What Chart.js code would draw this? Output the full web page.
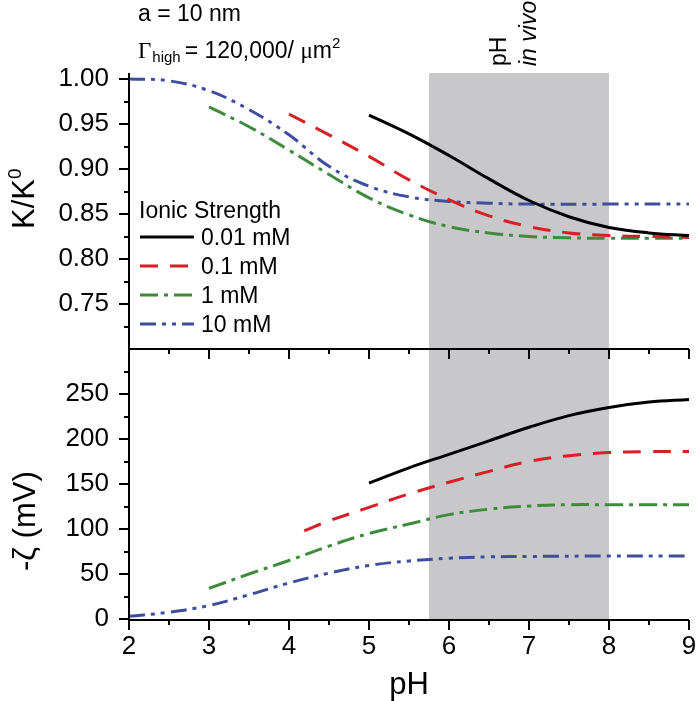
<!DOCTYPE html>
<html>
<head>
<meta charset="utf-8">
<title>K/K0 and zeta potential vs pH</title>
<script src="https://cdn.jsdelivr.net/npm/chart.js@4.4.1/dist/chart.umd.min.js"></script>
<style>
  html, body { margin: 0; padding: 0; background: #fff; }
  canvas { display: block; }
</style>
</head>
<body>
<canvas id="phChart" width="698" height="701"></canvas>
<script>
// Ionic strength series
const ionicLabels = ['0.01 mM', '0.1 mM', '1 mM', '10 mM'];

// Top panel: K/K0 vs pH
const kPh001 = [5, 5.5, 6, 6.5, 7, 7.5, 8, 8.5, 9];
const k001   = [0.960, 0.939, 0.915, 0.889, 0.865, 0.847, 0.835, 0.829, 0.826];
const kPh01  = [4, 4.5, 5, 5.5, 6, 6.5, 7, 7.5, 8, 8.5, 9];
const k01    = [0.961, 0.938, 0.914, 0.888, 0.866, 0.848, 0.836, 0.829, 0.826, 0.825, 0.824];
const kPh1   = [3, 3.5, 4, 4.5, 5, 5.5, 6, 6.5, 7, 7.5, 8, 8.5, 9];
const k1     = [0.969, 0.947, 0.921, 0.894, 0.868, 0.849, 0.836, 0.829, 0.825, 0.8235, 0.823, 0.823, 0.823];
const kPh10  = [2, 2.5, 3, 3.5, 4, 4.5, 5, 5.5, 6, 6.5, 7, 8, 9];
const k10    = [1.000, 0.998, 0.987, 0.966, 0.938, 0.903, 0.881, 0.869, 0.864, 0.862, 0.861, 0.861, 0.861];

// Bottom panel: -zeta (mV) vs pH
const zPh001 = [5, 5.5, 6, 6.5, 7, 7.5, 8, 8.5, 9];
const z001   = [151, 168, 183, 198, 213, 226, 235, 241, 244];
const zPh01  = [4.19, 4.5, 5, 5.5, 6, 6.5, 7, 7.5, 8, 8.5, 9];
const z01    = [98, 109, 124, 139, 152, 164, 175, 181.5, 185, 186, 186];
const zPh1   = [3, 3.5, 4, 4.5, 5, 5.5, 6, 6.5, 7, 7.5, 8, 8.5, 9];
const z1     = [34, 50, 65, 81, 95, 105.5, 116, 122, 125.5, 127, 127, 127, 127];
const zPh10  = [2, 2.5, 3, 3.5, 4, 4.5, 5, 5.5, 6, 6.5, 7, 8, 9];
const z10    = [3, 7.5, 15, 27, 40, 51, 59.5, 64.5, 67.5, 69, 69.5, 70, 70];

// Axis ticks
const phTicks = [2, 3, 4, 5, 6, 7, 8, 9];
const phMinorTicks = [2.5, 3.5, 4.5, 5.5, 6.5, 7.5, 8.5];
const kTicks = [0.75, 0.80, 0.85, 0.90, 0.95, 1.00];
const kMinorTicks = [0.725, 0.775, 0.825, 0.875, 0.925, 0.975];
const zetaTicks = [0, 50, 100, 150, 200, 250];
const zetaMinorTicks = [25, 75, 125, 175, 225, 275];

// in vivo pH range (shaded)
const inVivoRange = [5.75, 8];

const seriesColors = ['#000000', '#d42027', '#3f8a3d', '#3e4d9e'];
const seriesDashes = [[], [18, 12], [18, 6, 4, 6], [16, 6, 4, 6, 4, 6]];

const FONT = '"Liberation Sans", Arial, sans-serif';
const SERIF = '"Liberation Serif", "Times New Roman", serif';

function toPoints(xs, ys) {
    return xs.map((x, i) => ({ x: x, y: ys[i] }));
}

function tickList(majors, minors) {
    return majors.map(v => ({ value: v, major: true }))
        .concat(minors.map(v => ({ value: v, major: false })))
        .sort((a, b) => a.value - b.value);
}

function makeDataset(i, pts, axis) {
    return {
        label: ionicLabels[i],
        data: pts,
        yAxisID: axis,
        borderColor: seriesColors[i],
        borderDash: seriesDashes[i],
        borderWidth: 3,
        borderCapStyle: 'butt',
        pointRadius: 0,
        fill: false,
        tension: 0.4
    };
}

const kData = [toPoints(kPh001, k001), toPoints(kPh01, k01), toPoints(kPh1, k1), toPoints(kPh10, k10)];
const zData = [toPoints(zPh001, z001), toPoints(zPh01, z01), toPoints(zPh1, z1), toPoints(zPh10, z10)];

const datasets = [];
kData.forEach((pts, i) => datasets.push(makeDataset(i, pts, 'yK')));
zData.forEach((pts, i) => datasets.push(makeDataset(i, pts, 'yZ')));

function drawTickMarks(ctx, scale, horizontal, base, dir) {
    scale.ticks.forEach(t => {
        const len = t.major ? 10 : 5;
        const p = Math.round(scale.getPixelForValue(t.value));
        ctx.beginPath();
        if (horizontal) {
            ctx.moveTo(p, base);
            ctx.lineTo(p, base + dir * len);
        } else {
            ctx.moveTo(base, p);
            ctx.lineTo(base + dir * len, p);
        }
        ctx.stroke();
    });
}

// draws a run of text pieces, each with its own font and baseline shift
function drawRun(ctx, x, y, pieces) {
    pieces.forEach(p => {
        ctx.font = p.font;
        ctx.fillText(p.text, x, y + (p.dy || 0));
        x += ctx.measureText(p.text).width + (p.gap || 0);
    });
    return x;
}

const panelDecor = {
    id: 'panelDecor',
    beforeDraw(chart) {
        const { ctx, chartArea, scales } = chart;
        const x0 = scales.x.getPixelForValue(inVivoRange[0]);
        const x1 = scales.x.getPixelForValue(inVivoRange[1]);
        ctx.save();
        ctx.fillStyle = '#c8c8ca';
        ctx.fillRect(x0, chartArea.top, x1 - x0, chartArea.bottom - chartArea.top);
        ctx.restore();
    },
    afterDraw(chart) {
        const { ctx, chartArea, scales } = chart;
        const mid = Math.round(scales.yK.bottom);
        ctx.save();
        ctx.strokeStyle = '#000';
        ctx.lineWidth = 2;
        ctx.lineCap = 'butt';

        // axis lines
        ctx.beginPath();
        ctx.moveTo(chartArea.left, chartArea.top);
        ctx.lineTo(chartArea.left, chartArea.bottom + 1);
        ctx.lineTo(chartArea.right, chartArea.bottom + 1);
        ctx.moveTo(chartArea.left, mid);
        ctx.lineTo(chartArea.right, mid);
        ctx.stroke();

        drawTickMarks(ctx, scales.x, true, chartArea.bottom + 1, 1);
        drawTickMarks(ctx, scales.x, true, mid, 1);
        drawTickMarks(ctx, scales.yK, false, chartArea.left, -1);
        drawTickMarks(ctx, scales.yZ, false, chartArea.left, -1);

        ctx.fillStyle = '#000';
        ctx.textAlign = 'left';
        ctx.textBaseline = 'alphabetic';

        // legend
        ctx.font = '23px ' + FONT;
        ctx.fillText('Ionic Strength', 139, 218);
        for (let i = 0; i < 4; i++) {
            const y = 237 + i * 29;
            const ds = chart.data.datasets[i];
            ctx.save();
            ctx.strokeStyle = ds.borderColor;
            ctx.lineWidth = 3;
            ctx.setLineDash(ds.borderDash);
            ctx.beginPath();
            ctx.moveTo(140, y);
            ctx.lineTo(194, y);
            ctx.stroke();
            ctx.restore();
            ctx.font = '23px ' + FONT;
            ctx.fillText(ds.label, 201, y + 8);
        }

        // annotations
        ctx.font = '23px ' + FONT;
        ctx.fillText('a = 10 nm', 138, 21);
        drawRun(ctx, 138, 58, [
            { text: '\u0393', font: '23px ' + SERIF, gap: 1 },
            { text: 'high', font: '15px ' + FONT, dy: 4, gap: 4 },
            { text: '= 120,000/ ', font: '23px ' + FONT },
            { text: '\u03bc', font: '23px ' + SERIF },
            { text: 'm', font: '23px ' + FONT },
            { text: '2', font: '15px ' + FONT, dy: -10 }
        ]);

        // rotated "pH in vivo"
        ctx.save();
        ctx.translate(506, 66);
        ctx.rotate(-Math.PI / 2);
        ctx.font = '23px ' + FONT;
        ctx.fillText('pH', 0, 0);
        ctx.restore();
        ctx.save();
        ctx.translate(536, 66);
        ctx.rotate(-Math.PI / 2);
        ctx.font = 'italic 23px ' + FONT;
        ctx.fillText('in vivo', 0, 0);
        ctx.restore();

        // axis titles
        ctx.save();
        ctx.translate(34, 229);
        ctx.rotate(-Math.PI / 2);
        drawRun(ctx, 0, 0, [
            { text: 'K/K', font: '31px ' + FONT },
            { text: '0', font: '19px ' + FONT, dy: -13 }
        ]);
        ctx.restore();

        ctx.save();
        ctx.translate(35, 571);
        ctx.rotate(-Math.PI / 2);
        ctx.font = '31px ' + FONT;
        ctx.fillText('-\u03b6 (mV)', 0, 0);
        ctx.restore();

        ctx.font = '31px ' + FONT;
        ctx.textAlign = 'center';
        ctx.fillText('pH', (scales.x.getPixelForValue(5) + scales.x.getPixelForValue(6)) / 2, 694);

        ctx.restore();
    }
};

new Chart(document.getElementById('phChart'), {
    type: 'line',
    data: { datasets: datasets },
    options: {
        responsive: false,
        animation: false,
        layout: { padding: { top: 73, right: 9, left: 0, bottom: 0 } },
        plugins: {
            legend: { display: false },
            tooltip: { enabled: false }
        },
        scales: {
            x: {
                type: 'linear',
                min: 2,
                max: 9,
                grid: { display: false, drawTicks: false },
                border: { display: false },
                afterBuildTicks: function(scale) {
                    scale.ticks = tickList(phTicks, phMinorTicks);
                },
                afterFit: function(scale) {
                    scale.height = 82;
                    scale.paddingLeft = 0;
                    scale.paddingRight = 0;
                },
                ticks: {
                    autoSkip: false,
                    maxRotation: 0,
                    padding: 12,
                    color: '#000',
                    font: { size: 26, family: FONT },
                    callback: function(value) {
                        return phTicks.includes(value) ? String(value) : '';
                    }
                }
            },
            yK: {
                type: 'linear',
                position: 'left',
                stack: 'panels',
                stackWeight: 276,
                weight: 1,
                min: 0.70,
                max: 1.0067,
                grid: { display: false, drawTicks: false },
                border: { display: false },
                afterBuildTicks: function(scale) {
                    scale.ticks = tickList(kTicks, kMinorTicks);
                },
                afterFit: function(scale) {
                    scale.width = 129;
                },
                ticks: {
                    autoSkip: false,
                    padding: 20,
                    color: '#000',
                    font: { size: 26, family: FONT },
                    callback: function(value) {
                        return kTicks.some(v => Math.abs(v - value) < 1e-6) ? value.toFixed(2) : '';
                    }
                }
            },
            yZ: {
                type: 'linear',
                position: 'left',
                stack: 'panels',
                stackWeight: 270,
                weight: 0,
                min: 0,
                max: 300,
                grid: { display: false, drawTicks: false },
                border: { display: false },
                afterBuildTicks: function(scale) {
                    scale.ticks = tickList(zetaTicks, zetaMinorTicks);
                },
                afterFit: function(scale) {
                    scale.width = 129;
                },
                ticks: {
                    autoSkip: false,
                    padding: 20,
                    color: '#000',
                    font: { size: 26, family: FONT },
                    callback: function(value) {
                        return zetaTicks.includes(value) ? String(value) : '';
                    }
                }
            }
        }
    },
    plugins: [panelDecor]
});
</script>
</body>
</html>
